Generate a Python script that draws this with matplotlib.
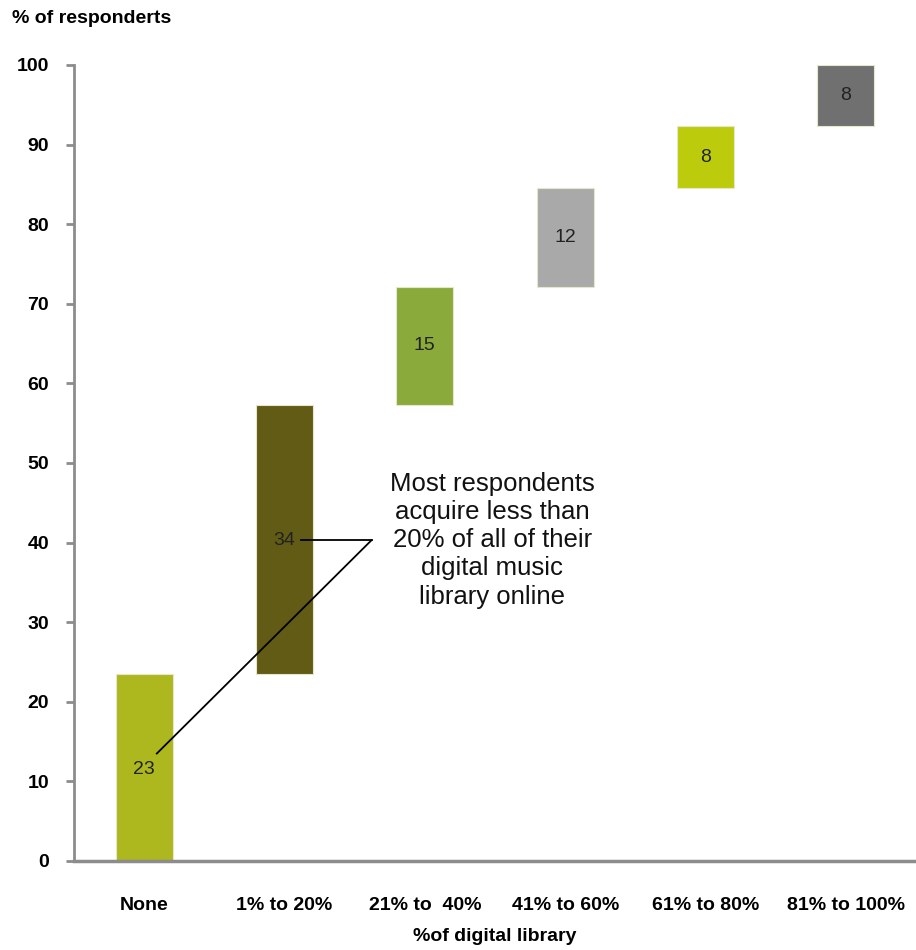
import matplotlib

matplotlib.use("Agg")
import matplotlib.pyplot as plt
import numpy as np

categories = ["None", "1% to 20%", "21% to  40%", "41% to 60%", "61% to 80%", "81% to 100%"]
values = [23.5, 33.8, 14.8, 12.4, 7.8, 7.7]
labels = ["23", "34", "15", "12", "8", "8"]
colors = ["#ADB71E", "#625B15", "#8AAA3C", "#A9A9A9", "#BCCC0C", "#707070"]
yticks = [0, 10, 20, 30, 40, 50, 60, 70, 80, 90, 100]

note = "Most respondents\nacquire less than\n20% of all of their\ndigital music\nlibrary online"

bold_font = ["Liberation Sans Narrow", "Liberation Sans", "DejaVu Sans"]
plain_font = ["Liberation Sans", "DejaVu Sans"]

fig = plt.figure(figsize=(9.16, 9.5), dpi=100)
ax = fig.add_axes([0.0808, 0.0937, 0.9192, 0.8379])

x = np.arange(len(categories))
bottoms = np.concatenate([[0], np.cumsum(values)[:-1]])
ax.bar(x, values, bottom=bottoms, width=0.405, color=colors,
       edgecolor="#E6E6CC", linewidth=0.8, zorder=2)

mids = bottoms + np.array(values) / 2
for i, (m, lbl) in enumerate(zip(mids, labels)):
    y = m
    if i == 0:
        y = 11.5
    elif i == 1:
        y = 40.3
    ax.text(x[i], y, lbl, ha="center", va="center", fontsize=14,
            family=plain_font, color="#222222", zorder=4)

# callout
ax.text(2.48, 40.3, note, ha="center", va="center", fontsize=18.5,
        family=plain_font, linespacing=1.22, color="#111111", zorder=4)
ax.plot([1.12, 1.62], [40.3, 40.3], color="black", lw=1.3, zorder=3)
ax.plot([0.09, 1.62], [13.5, 40.3], color="black", lw=1.3, zorder=3)

ax.set_xlim(-0.5, 5.5)
ax.set_ylim(0, 100)
ax.set_yticks(yticks)
ax.set_yticklabels([str(t) for t in yticks], fontsize=14, fontweight="bold",
                   family=bold_font)
ax.set_xticks(x)
ax.set_xticklabels(categories, fontsize=14, fontweight="bold", family=bold_font)
ax.tick_params(axis="y", direction="out", length=6, width=2, color="#8C8C8C", pad=12)
ax.tick_params(axis="x", length=0, pad=26)

for s in ["top", "right"]:
    ax.spines[s].set_visible(False)
ax.spines["left"].set_color("#8C8C8C")
ax.spines["left"].set_linewidth(2)
ax.spines["bottom"].set_color("#8C8C8C")
ax.spines["bottom"].set_linewidth(2.5)

ax.set_xlabel("%of digital library", fontsize=14, fontweight="bold",
              family=bold_font, labelpad=10)
fig.text(0.013, 0.981, "% of responderts", fontsize=14, fontweight="bold",
         family=bold_font, ha="left", va="center")

plt.savefig("out.png", dpi=100)
plt.close()
